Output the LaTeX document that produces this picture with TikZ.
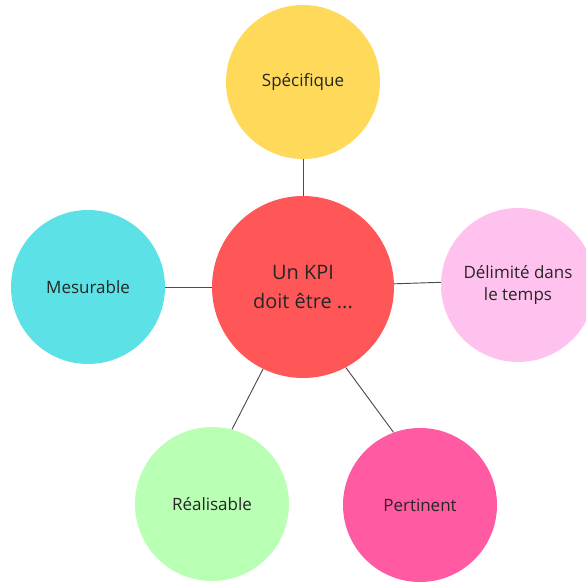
\documentclass[tikz,border=0pt]{standalone}
\usepackage{fontspec}
\setmainfont{Open Sans}
\usepackage{tikz}
\usetikzlibrary{calc}
\definecolor{kpired}{HTML}{FF5757}
\definecolor{kpiyellow}{HTML}{FFD95A}
\definecolor{kpicyan}{HTML}{5CE1E6}
\definecolor{kpipink}{HTML}{FFC2EE}
\definecolor{kpigreen}{HTML}{B9FFB4}
\definecolor{kpirose}{HTML}{FF5AA2}
\tikzstyle{hubnode} = [circle, minimum size=5.46cm, inner sep=0, align=center, font=\fontsize{17}{24}\selectfont, text=black!85]
\tikzstyle{leafnode} = [circle, minimum size=4.62cm, inner sep=0, align=center, font=\fontsize{14.5}{18.5}\selectfont, text=black!85]
\tikzstyle{link} = [draw=black!70, line width=0.8pt]

\begin{document}
\begin{tikzpicture}[x=0.03cm, y=0.03cm]
    \useasboundingbox (0,0) rectangle (586,581);
    \node[hubnode, fill=kpired] (kpi) at (303,294) {Un KPI\\doit être ...};
    \node[leafnode, fill=kpiyellow] (spec) at ($(kpi)+(0,205)$) {Spécifique};
    \node[leafnode, fill=kpicyan] (mesu) at ($(kpi)+(-215,0)$) {Mesurable};
    \node[leafnode, fill=kpipink] (temps) at ($(kpi)+(215,2)$) {Délimité dans\\le temps};
    \node[leafnode, fill=kpigreen] (real) at ($(kpi)+(-91,-217)$) {Réalisable};
    \node[leafnode, fill=kpirose] (pert) at ($(kpi)+(117,-218)$) {Pertinent};
    \draw[link] (kpi) -- (spec);
    \draw[link] (kpi) -- (mesu);
    \draw[link] (kpi.2) -- (temps.178);
    \draw[link] (kpi.244) -- (real.75);
    \draw[link] (kpi.298) -- (pert.110);
\end{tikzpicture}
\end{document}
